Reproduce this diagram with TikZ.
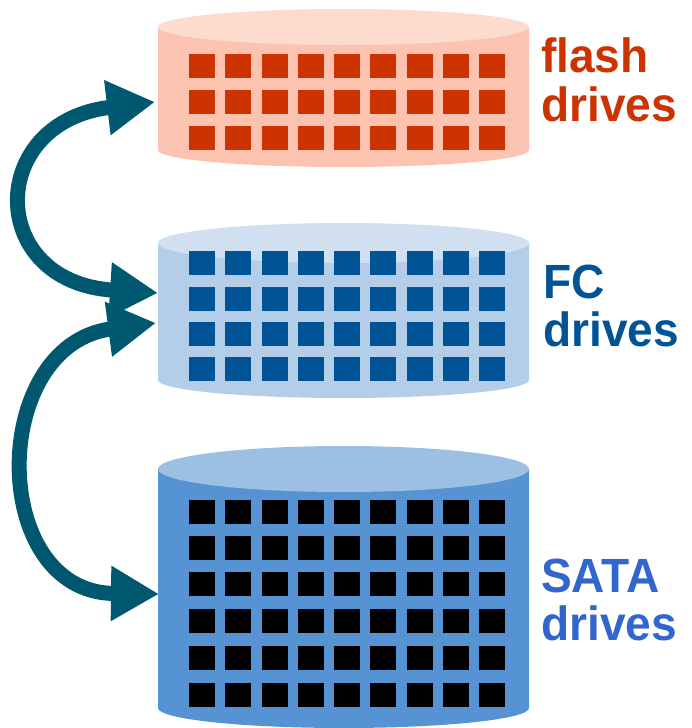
\documentclass[tikz,border=0pt]{standalone}
\usepackage{fontspec}
\setmainfont{Liberation Sans}
\usetikzlibrary{arrows.meta}
\definecolor{flashtop}{RGB}{254,219,207}
\definecolor{flashbody}{RGB}{252,195,176}
\definecolor{flashsq}{RGB}{204,51,0}
\definecolor{fctop}{RGB}{208,224,241}
\definecolor{fcbody}{RGB}{180,205,233}
\definecolor{fcsq}{RGB}{0,84,150}
\definecolor{satatop}{RGB}{156,192,227}
\definecolor{satabody}{RGB}{86,147,210}
\definecolor{satatext}{RGB}{51,102,204}
\definecolor{arrowcol}{RGB}{0,88,112}
\tikzset{
  lbl/.style={anchor=base west,inner sep=0pt,font=\fontsize{48}{49}\selectfont\bfseries,xscale=0.96},
  tierarrow/.style={draw=arrowcol,line width=15pt,{Triangle[length=48pt,width=52pt]}-{Triangle[length=48pt,width=52pt]}}
}
\newcommand{\cyl}[6]{% top y, top ry, bottom y, bottom ry, top colour, body colour
  \fill[#6] (158,#1) -- (158,#3) arc[start angle=180,end angle=0,x radius=185.5,y radius=#4] -- (529,#1) -- cycle;
  \fill[#5] (343.5,#1) ellipse[x radius=185.5,y radius=#2];
}
\begin{document}
\begin{tikzpicture}[x=1pt,y=-1pt]
\useasboundingbox (0,0) rectangle (691,728);
% flash cylinder
\cyl{27}{18}{150}{17}{flashtop}{flashbody}
\foreach \r in {54,90,126}
  \foreach \c in {0,...,8}
    \fill[flashsq] (189+36.25*\c,\r) rectangle ++(26,24);
% FC cylinder
\cyl{243}{20}{380}{18}{fctop}{fcbody}
\foreach \r in {251,287,322,357}
  \foreach \c in {0,...,8}
    \fill[fcsq] (189+36.25*\c,\r) rectangle ++(26,24);
% SATA cylinder
\cyl{469}{23}{708}{20}{satatop}{satabody}
\foreach \r in {500,536,572,609,646,683}
  \foreach \c in {0,...,8}
    \fill[black] (189+36.25*\c,\r) rectangle ++(26,24);
% labels
\node[lbl,text=flashsq] (flashA) at (541,72) {flash};
\node[lbl,text=flashsq] (flashB) at (541,121) {drives};
\node[lbl,text=fcsq] (fcA) at (543,298) {FC};
\node[lbl,text=fcsq] (fcB) at (543,346) {drives};
\node[lbl,text=satatext] (sataA) at (541,592) {SATA};
\node[lbl,text=satatext] (sataB) at (541,640) {drives};
% arrow end points
\coordinate (flashIn) at (155,102);
\coordinate (fcInA) at (158,293);
\coordinate (fcInB) at (156,323);
\coordinate (sataIn) at (159,594);
\draw[tierarrow] (flashIn) .. controls (-14,122) and (-14,282) .. (fcInA);
\draw[tierarrow] (fcInB) .. controls (-12,345) and (-12,592) .. (sataIn);
\end{tikzpicture}
\end{document}
